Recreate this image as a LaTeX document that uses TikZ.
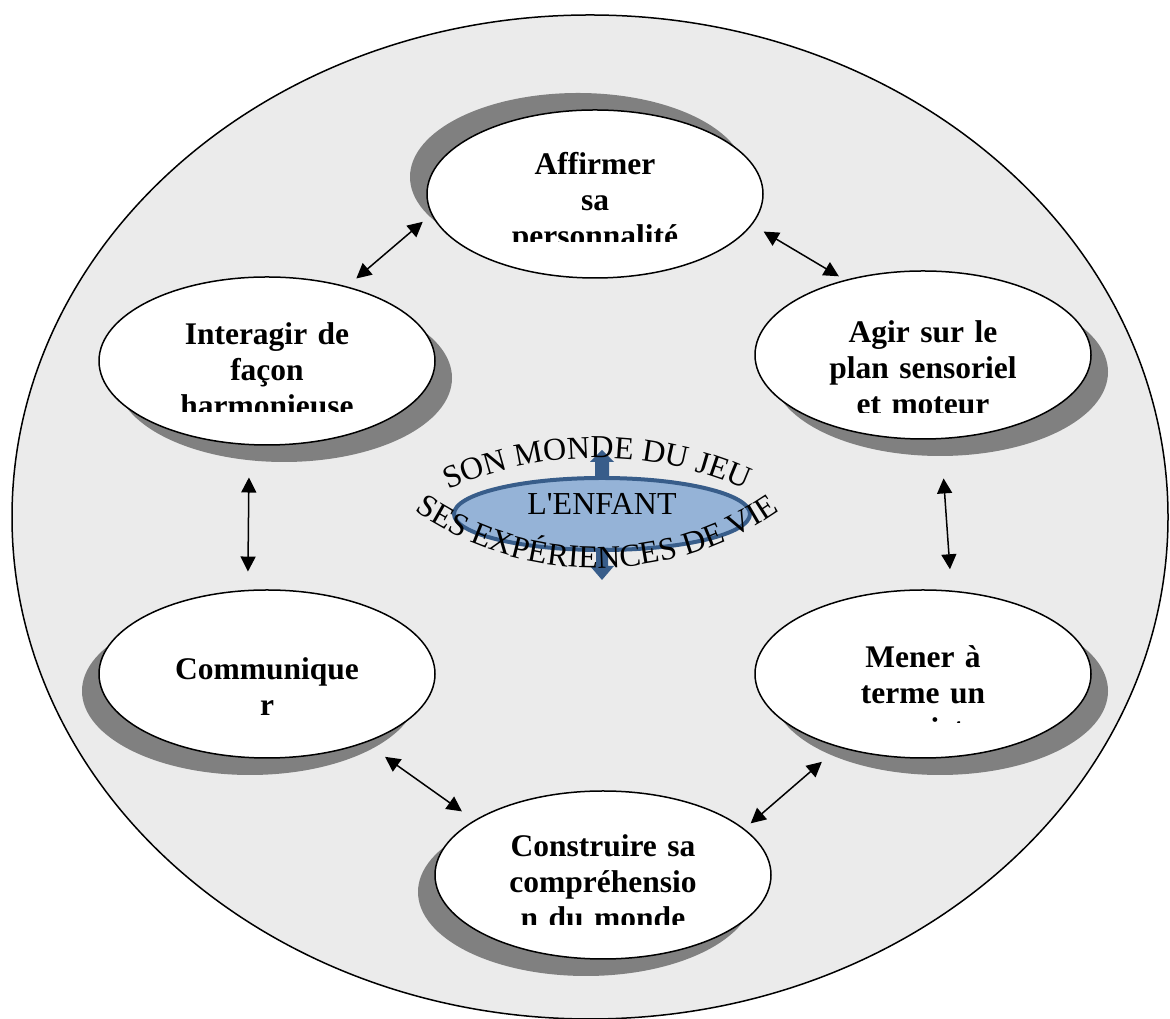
\documentclass[tikz,border=0pt]{standalone}
\usepackage{fontspec}
\setmainfont{Liberation Serif}
\usepackage{tikz}
\usetikzlibrary{shapes,arrows.meta,calc,shadows,decorations.text}
\definecolor{bggray}{HTML}{EBEBEB}
\definecolor{shadowgray}{HTML}{808080}
\definecolor{kidfill}{HTML}{95B3D7}
\definecolor{kidline}{HTML}{385D8A}
\tikzset{
  bubble/.style={ellipse, draw=black, line width=1.5pt, fill=white,
    minimum width=336pt, minimum height=168pt, inner sep=0pt, outer sep=0pt},
  shadow ul/.style={drop shadow={shadow xshift=-17pt, shadow yshift=17pt, fill=shadowgray, opacity=1}},
  shadow lr/.style={drop shadow={shadow xshift=17pt, shadow yshift=-17pt, fill=shadowgray, opacity=1}},
  shadow ll/.style={drop shadow={shadow xshift=-17pt, shadow yshift=-17pt, fill=shadowgray, opacity=1}},
  bubtext/.style={font=\bfseries\fontsize{31.5}{36}\selectfont, align=center,
    text width=330pt, inner sep=0pt, anchor=base},
  link/.style={line width=1.5pt, {Triangle[length=15pt,width=15pt]}-{Triangle[length=15pt,width=15pt]}},
  kidbox/.style={ellipse, draw=kidline, line width=4pt, fill=kidfill,
    minimum width=296pt, minimum height=72pt, inner sep=0pt, outer sep=0pt,
    font=\fontsize{32}{38}\selectfont, text depth=20pt},
}

\begin{document}
\begin{tikzpicture}[x=1pt,y=1pt,thick]
\useasboundingbox (0,0) rectangle (1170,1019);
\draw[fill=bggray, line width=1.5pt] (590,502) ellipse [x radius=578, y radius=502];

% the six bubbles
\node (aff) at (595,825) [bubble, shadow ul] {};
\node (agir) at (923,664) [bubble, shadow lr] {};
\node (inter) at (267,658) [bubble, shadow lr] {};
\node (comm) at (267,345) [bubble, shadow ll] {};
\node (mener) at (923,345) [bubble, shadow lr] {};
\node (constr) at (603,144) [bubble, shadow ll] {};

% their texts, cut off at the bottom of the text box
\begin{scope}
\clip (420,777) rectangle (770,915);
\node (aff-t) at (595,844) [bubtext] {Affirmer\\sa\\personnalité};
\end{scope}
\begin{scope}
\clip (750,606) rectangle (1100,760);
\node (agir-t) at (923,676) [bubtext] {Agir sur le\\plan sensoriel\\et moteur};
\end{scope}
\begin{scope}
\clip (95,607) rectangle (440,750);
\node (inter-t) at (267,674) [bubtext] {Interagir de\\façon\\harmonieuse};
\end{scope}
\node (comm-t) at (267,339) [bubtext] {Communique\\r};
\begin{scope}
\clip (750,296.5) rectangle (1100,440);
\node (mener-t) at (923,351) [bubtext] {Mener à\\terme un\\projet};
\end{scope}
\begin{scope}
\clip (430,94) rectangle (780,230);
\node (constr-t) at (603,162) [bubtext] {Construire sa\\compréhensio\\n du monde};
\end{scope}

% links between the bubbles
\draw[link, shorten <=13pt, shorten >=12pt] (inter.43) -- (aff.187);
\draw[link, shorten <=14pt, shorten >=8pt] (aff.349) -- (agir.136);
\draw[link, shorten <=33pt, shorten >=19pt] (inter.258) -- (comm.103);
\draw[link, shorten <=40pt, shorten >=22pt] (agir.282) -- (mener.71);
\draw[link, shorten <=25pt, shorten >=16pt] (comm.325) -- (constr.157);
\draw[link, shorten <=9pt, shorten >=23pt] (constr.18) -- (mener.221);

% the child in the middle
\node (kid) at (602,505) [kidbox] {L\textquotesingle ENFANT};
\fill[kidline] ($(kid.north)+(-7,-2)$) -- ++(0,18) -- ++(-5,0) -- ++(12,12) -- ++(12,-12) -- ++(-5,0) -- ++(0,-18) -- cycle;
\fill[kidline] ($(kid.south)+(-6,2)$) -- ++(0,-18) -- ++(-6,0) -- ++(12,-14) -- ++(12,14) -- ++(-6,0) -- ++(0,18) -- cycle;
\path[decorate, decoration={text along path, text align=center,
  text={|\fontsize{32}{38}\selectfont|SON MONDE DU JEU}}]
  (597,197) ++(120:364) arc[start angle=120, end angle=60, radius=364];
\path[decorate, decoration={text along path, text align=center,
  text={|\fontsize{32}{38}\selectfont|SES EXPÉRIENCES DE VIE}}]
  (597,771) ++(230:320) arc[start angle=230, end angle=310, radius=320];
\end{tikzpicture}
\end{document}
